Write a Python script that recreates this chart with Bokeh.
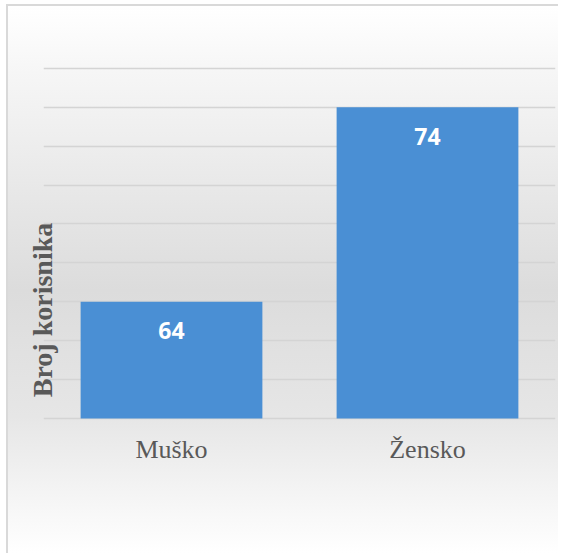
from bokeh.plotting import figure
from bokeh.models import ColumnDataSource, LabelSet, FactorRange, Range1d, SingleIntervalTicker, FixedTicker
from bokeh.embed import file_html
from bokeh.resources import INLINE
from bokeh.core.properties import value

categories = ["Muško", "Žensko"]
counts = [64, 74]
y_title = "Broj korisnika"
y_base, y_top, y_step = 58, 76.2, 2
y_start = 50.95

source = ColumnDataSource(dict(cat=categories, val=counts, lbl=[str(v) for v in counts],
                               base=[y_base] * len(categories)))

p = figure(x_range=FactorRange(*categories, range_padding=0), y_range=Range1d(y_start, y_top),
           x_axis_location=None,
           width=552, height=549, output_backend="svg", toolbar_location=None,
           min_border_left=35, min_border_right=5, min_border_top=58, min_border_bottom=0)

p.background_fill_alpha = 0
p.border_fill_alpha = 0
p.outline_line_color = None
p.styles = {"background": "linear-gradient(to bottom, #ffffff 0%, #f6f6f6 12%, #dcdcdc 52%, #e6e6e6 75%, #ffffff 100%)",
            "border-left": "2px solid #d9d9d9", "border-top": "2px solid #d9d9d9",
            "margin-left": "6px", "margin-top": "4px"}

p.xgrid.visible = False
p.ygrid.ticker = SingleIntervalTicker(interval=y_step, num_minor_ticks=0)
p.ygrid.bounds = (y_base, y_top)
p.ygrid.grid_line_color = "#d4d4d4"
p.ygrid.grid_line_width = 1.5

ya = p.yaxis[0]
ya.ticker = FixedTicker(ticks=[])
ya.axis_line_color = None
ya.major_tick_line_color = None
ya.minor_tick_line_color = None
ya.major_label_text_font_size = "0px"
ya.axis_label = y_title
ya.axis_label_text_font = "Liberation Serif"
ya.axis_label_text_font_style = "bold"
ya.axis_label_text_font_size = "28px"
ya.axis_label_text_color = "#595959"
ya.axis_label_standoff = -14

p.vbar(x="cat", top="val", bottom=y_base, width=0.71, source=source,
       fill_color="#4a8fd4", line_color=None)

labels = LabelSet(x="cat", y="val", text="lbl", y_offset=-29, source=source,
                  text_align="center", text_baseline="middle", text_color="white",
                  text_font=value("Open Sans"), text_font_style="bold", text_font_size="23px")
p.add_layout(labels)

cat_labels = LabelSet(x="cat", y="base", text="cat", y_offset=-40, source=source,
                      text_align="center", text_baseline="alphabetic", text_color="#595959",
                      text_font=value("Liberation Serif"), text_font_size="26px")
p.add_layout(cat_labels)

open("out.html", "w").write(file_html(p, INLINE))
